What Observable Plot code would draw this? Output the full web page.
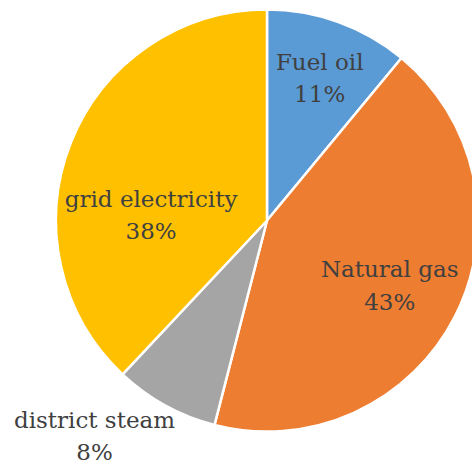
<!DOCTYPE html>
<html>
<head>
<meta charset="utf-8">
<script src="https://cdn.jsdelivr.net/npm/d3@7"></script>
<script src="https://cdn.jsdelivr.net/npm/@observablehq/plot@0.6"></script>
<style>
  html, body { margin: 0; padding: 0; background: #fff; }
</style>
</head>
<body>
<div id="chart"></div>
<script>
// Energy sources, clockwise from 12 o'clock
const sources = ["Fuel oil", "Natural gas", "district steam", "grid electricity"];
const shares = [11, 43, 8, 38];
const colors = ["#5B9BD5", "#ED7D31", "#A5A5A5", "#FFC000"];

// Label placement: radius as a fraction of the pie radius, and a turn (degrees) off the slice bisector
const labelLayout = {
  "Fuel oil": {r: 0.73, turn: 0},
  "Natural gas": {r: 0.65, turn: 0},
  "district steam": {r: 1.30, turn: 10.3},
  "grid electricity": {r: 0.553, turn: -17.7}
};

const slices = sources.map((source, i) => ({source, share: shares[i]}));
const arcs = d3.pie().sort(null).value(d => d.share)(slices);

const labels = arcs.map(a => {
  const {r, turn} = labelLayout[a.data.source];
  const ang = (a.startAngle + a.endAngle) / 2 + turn * Math.PI / 180;
  return {
    source: a.data.source,
    text: `${a.data.source}\n${a.data.share}%`,
    x: r * Math.sin(ang),
    y: r * Math.cos(ang)
  };
});

const labelFont = "'DejaVu Serif', serif";

const chart = Plot.plot({
  width: 472,
  height: 466,
  style: {background: "#fff", fontFamily: labelFont},
  x: {domain: [-1, 1], range: [56, 478], axis: null},
  y: {domain: [-1, 1], range: [431.5, 9.5], axis: null},
  color: {domain: sources, range: colors},
  marks: [
    // wedges drawn with d3.arc, positioned and coloured through Plot's scales
    Plot.dot(arcs, {
      x: () => 0,
      y: () => 0,
      render(index, scales, values, dimensions, context) {
        const cx = scales.x(0), cy = scales.y(0);
        const radius = scales.x(1) - scales.x(0);
        const arc = d3.arc().innerRadius(0).outerRadius(radius);
        const g = d3.create("svg:g");
        g.selectAll("path")
          .data(arcs)
          .join("path")
          .attr("transform", `translate(${cx},${cy})`)
          .attr("d", arc)
          .attr("fill", d => scales.color(d.data.source))
          .attr("stroke", "#fff")
          .attr("stroke-width", 2.5)
          .attr("stroke-linejoin", "round");
        return g.node();
      }
    }),
    Plot.text(labels, {
      x: "x",
      y: "y",
      text: "text",
      fontSize: 23,
      fontFamily: labelFont,
      fill: "#404040",
      lineHeight: 1.4
    })
  ]
});

chart.querySelectorAll("text").forEach(t => t.style.fontFamily = labelFont);
document.getElementById("chart").appendChild(chart);
</script>
</body>
</html>
